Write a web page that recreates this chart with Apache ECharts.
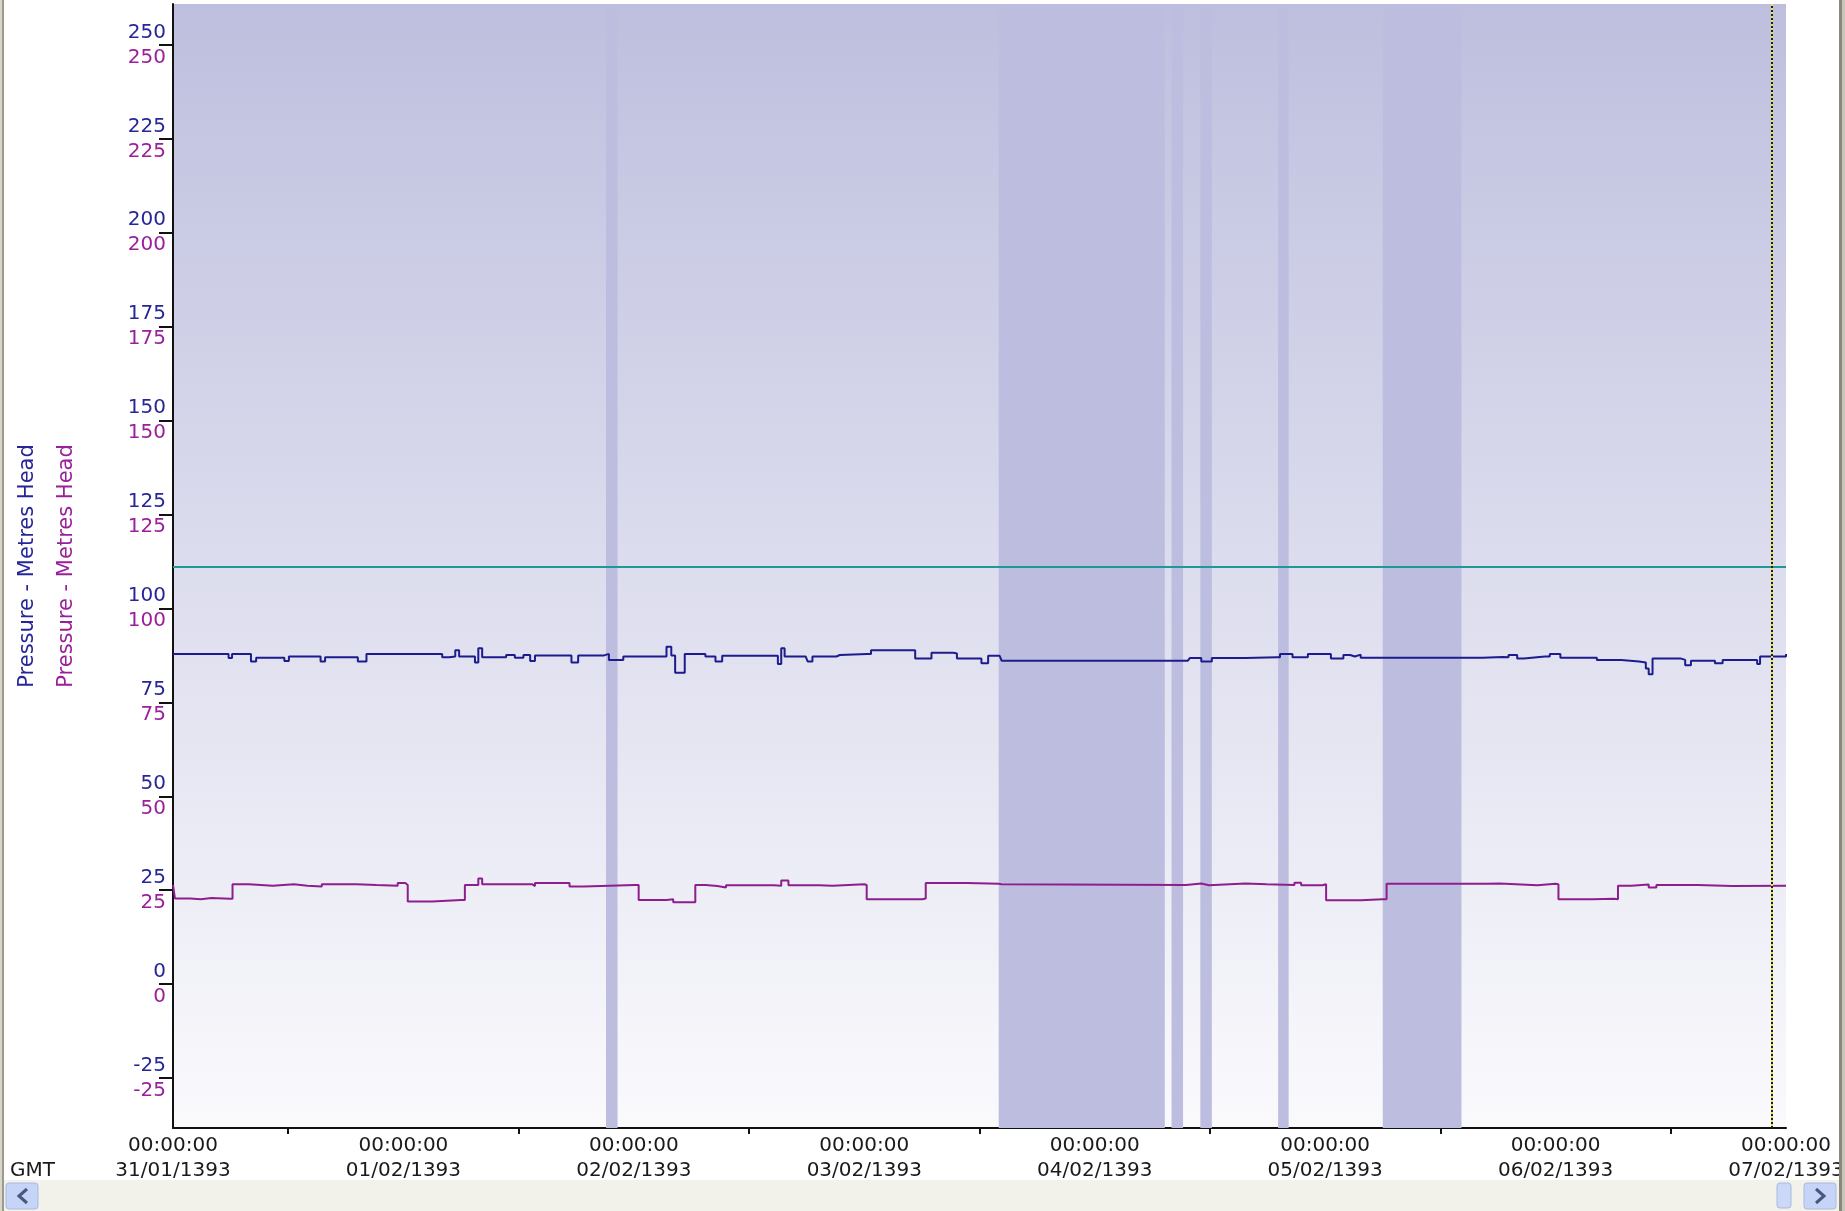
<!DOCTYPE html>
<html><head><meta charset="utf-8">
<script src="https://cdn.jsdelivr.net/npm/echarts@6/dist/echarts.min.js"></script>
<style>html,body{margin:0;padding:0;background:#fff;overflow:hidden}#c{width:1845px;height:1211px}</style>
</head><body><div id="c"></div>
<script>
// ---- data ----
const dateLabels = ['31/01/1393','01/02/1393','02/02/1393','03/02/1393','04/02/1393','05/02/1393','06/02/1393','07/02/1393'];
const timeLabel = '00:00:00';
const dayTickHours = [0,24,48,72,96,120,144,168];
const halfDayTickHours = [12,36,60,84,108,132,156];
const yTickValues = [-25,0,25,50,75,100,125,150,175,200,225,250];
const axisTitle = 'Pressure - Metres Head';
const tzLabel = 'GMT';

const blueHours = [0,5.43,5.79,6.15,7.22,8.12,8.66,11.35,11.6,12.07,14.76,15.37,15.84,19.0,19.25,20.15,24.8,27.5,28.04,28.76,29.4,29.8,31.1,31.45,31.8,32.2,33.8,34.7,35.6,36.5,37.2,37.7,40.2,41.5,42.2,44.9,45.4,46.3,46.9,50.6,51.4,51.9,52.3,53.0,53.3,55.45,56.5,57.2,62.6,63.0,63.35,63.7,65.9,66.1,66.6,69.1,69.45,72.3,72.7,76.6,77.3,78.4,79.0,81.3,81.65,83.8,84.2,84.9,86.1,86.3,103.5,105.7,105.9,107.1,108.2,111.7,115.0,115.3,116.3,116.6,117.9,118.2,120.05,120.6,121.3,121.9,122.6,123.1,123.7,135.3,136.4,138.5,139.1,140.0,140.7,142.9,143.4,144.1,144.5,147.6,148.3,150.1,150.85,152.7,153.4,153.7,154.1,157.0,157.5,158.1,160.3,160.6,161.4,164.6,165.0,165.3,167.5,168.0];
const blueValues = [87.9,87.9,86.8,87.9,87.9,85.9,86.9,86.9,86.0,87.2,87.2,85.9,87.0,87.0,85.9,87.9,87.9,87.9,87.0,87.2,88.9,87.2,87.2,85.6,89.4,87.0,87.0,87.6,86.9,87.6,86.0,87.5,87.5,85.6,87.5,87.9,86.3,86.3,87.2,87.2,89.8,87.5,82.9,82.9,87.9,87.2,85.9,87.4,87.4,85.2,89.4,87.2,87.2,85.9,87.2,87.6,87.9,87.9,88.9,88.9,86.7,86.7,88.2,88.0,86.7,86.7,85.4,87.4,87.4,86.1,86.1,86.1,86.8,85.9,86.8,87.0,87.0,87.9,87.9,87.0,87.0,87.9,87.9,86.7,86.7,87.6,87.2,87.7,86.9,86.9,87.1,87.0,87.6,86.7,87.2,87.2,87.9,87.9,86.9,86.9,86.3,86.3,85.9,85.6,84.0,82.5,86.7,86.3,84.9,86.1,86.1,85.4,86.3,86.3,85.2,87.2,87.2,87.9];

const purpleHours = [0,0.2,1.8,2.9,4.0,5.97,6.2,7.9,10.4,12.6,14.0,15.5,19.1,21.2,23.4,24.2,24.45,27.0,30.0,30.4,31.8,32.2,37.4,37.7,41.3,42.8,48.1,48.5,51.4,52.1,53.9,54.4,55.45,56.7,57.6,62.6,63.35,64.1,67.3,68.7,72.0,72.25,78.06,78.4,82.7,86.0,86.3,105.5,105.7,107.1,107.9,111.7,113.9,116.8,117.5,119.7,120.1,123.7,126.0,126.4,134.2,136.7,138.2,142.1,144.0,144.3,147.9,150.1,150.5,151.9,153.7,154.5,158.8,162.4,168.0];
const purpleValues = [26.4,22.8,22.6,22.9,22.7,22.7,26.6,26.2,26.6,26.2,26.0,26.6,26.4,26.2,26.9,26.4,22.0,22.4,22.4,26.4,28.1,26.6,26.1,26.9,26.0,26.4,26.4,22.4,22.6,21.8,21.8,26.4,26.1,25.7,26.3,26.2,27.6,26.3,26.2,26.6,26.4,22.6,22.8,26.9,26.7,26.6,26.4,26.4,26.8,26.3,26.8,26.6,26.4,27.0,26.3,26.6,22.3,22.6,22.6,26.7,26.7,26.8,26.3,26.7,26.6,22.6,22.7,22.6,26.2,26.5,25.7,26.4,26.1,26.2,26.2];

const bandStarts = [45.1,86.0,104.0,107.0,115.1,126.0];
const bandEnds   = [46.3,103.3,105.2,108.2,116.2,134.2];
const thresholdValue = 111.1;
const cursorHour = 166.5;

// ---- chart ----
const FONT = 'DejaVu Sans';
const BLUE_TXT = '#262698', PURPLE_TXT = '#9a1f9a';
const BLUE_LINE = '#1c1c8e', PURPLE_LINE = '#8e1e8e';

const chart = echarts.init(document.getElementById('c'));
const pairs = (xs, ys) => xs.map((x, i) => [x, ys[i]]);

const yCommon = {
  type: 'value', min: -38.3, max: 260.9,
  splitLine: { show: false },
  nameLocation: 'middle', nameRotate: 90
};

chart.setOption({
  animation: false,
  backgroundColor: '#ffffff',
  grid: {
    left: 173, top: 4, right: 59, bottom: 83,
    containLabel: false, outerBoundsMode: 'none',
    show: true, borderWidth: 0,
    backgroundColor: new echarts.graphic.LinearGradient(0, 0, 0, 1, [
      { offset: 0, color: '#bebfde' },
      { offset: 1, color: '#fafafd' }
    ])
  },
  xAxis: {
    type: 'value', min: 0, max: 168,
    splitLine: { show: false },
    axisLine: { show: true, onZero: false, lineStyle: { color: '#111', width: 2 } },
    axisTick: { show: true, customValues: halfDayTickHours, length: 6, lineStyle: { color: '#111', width: 2 } },
    axisLabel: {
      customValues: dayTickHours, margin: 5,
      fontFamily: FONT, fontSize: 20, color: '#1a1a1a', lineHeight: 25,
      formatter: v => timeLabel + '\n' + dateLabels[Math.round(v / 24)]
    }
  },
  yAxis: [
    Object.assign({}, yCommon, {
      name: axisTitle, nameGap: 135,
      nameTextStyle: { color: BLUE_TXT, fontFamily: FONT, fontSize: 21 },
      axisLine: { show: true, lineStyle: { color: '#111', width: 2 } },
      axisTick: { show: true, customValues: yTickValues, length: 14, lineStyle: { color: '#111', width: 2 } },
      axisLabel: {
        customValues: yTickValues, margin: 7, align: 'right',
        fontFamily: FONT, fontSize: 20,
        formatter: v => '{b|' + v + '}\n{p|' + v + '}',
        rich: {
          b: { color: BLUE_TXT, fontFamily: FONT, fontSize: 20, lineHeight: 25, align: 'right' },
          p: { color: PURPLE_TXT, fontFamily: FONT, fontSize: 20, lineHeight: 25, align: 'right' }
        }
      }
    }),
    Object.assign({}, yCommon, {
      name: axisTitle, nameGap: 96,
      nameTextStyle: { color: PURPLE_TXT, fontFamily: FONT, fontSize: 21 },
      position: 'left',
      axisLine: { show: false }, axisTick: { show: false }, axisLabel: { show: false }
    })
  ],
  series: [
    {
      name: 'bands', type: 'line', data: [], z: 1, silent: true,
      markArea: {
        silent: true,
        itemStyle: { color: '#bdbedf', borderWidth: 0 },
        data: bandStarts.map((s, i) => [{ xAxis: s }, { xAxis: bandEnds[i] }])
      }
    },
    {
      name: 'threshold', type: 'line', data: [], z: 3, silent: true,
      markLine: {
        silent: true, symbol: 'none', label: { show: false },
        data: [
          { yAxis: thresholdValue, lineStyle: { color: '#1f9898', width: 2, type: 'solid' } }
        ]
      }
    },
    {
      name: 'Pressure A', type: 'line', data: pairs(blueHours, blueValues),
      yAxisIndex: 0, z: 4, showSymbol: false, symbol: 'none', step: 'end',
      lineStyle: { color: BLUE_LINE, width: 2 }
    },
    {
      name: 'Pressure B', type: 'line', data: pairs(purpleHours, purpleValues),
      yAxisIndex: 1, z: 4, showSymbol: false, symbol: 'none', step: 'end',
      lineStyle: { color: PURPLE_LINE, width: 2 }
    },
    {
      name: 'cursor', type: 'line', data: [], z: 5, silent: true,
      markLine: {
        silent: true, symbol: 'none', label: { show: false },
        data: [
          { xAxis: cursorHour, lineStyle: { color: '#e8e060', width: 2, type: 'solid' } },
          { xAxis: cursorHour, lineStyle: { color: '#202010', width: 2, type: [2, 2] } }
        ]
      }
    }
  ],
  graphic: [
    { type: 'text', left: 10, top: 1161, z: 10,
      style: { text: tzLabel, fontFamily: FONT, fontSize: 20, fill: '#1a1a1a' } },
    // window frame & scrollbar chrome
    { type: 'rect', shape: { x: 0, y: 0, width: 2, height: 1211 }, style: { fill: '#d8d6ca' }, z: 20 },
    { type: 'rect', shape: { x: 2, y: 0, width: 2, height: 1211 }, style: { fill: '#9c9a8c' }, z: 20 },
    { type: 'rect', shape: { x: 4, y: 1180, width: 1836, height: 31 }, style: { fill: '#f2f1ea' }, z: 20 },
    { type: 'rect', shape: { x: 6, y: 1183, width: 32, height: 26, r: 3 }, style: { fill: '#c6d5f7', stroke: '#a9badf', lineWidth: 1 }, z: 21 },
    { type: 'polyline', shape: { points: [[27, 1189], [19, 1196], [27, 1203]] }, style: { stroke: '#4a5680', lineWidth: 3, fill: null }, z: 22 },
    { type: 'rect', shape: { x: 1777, y: 1183, width: 14, height: 25, r: 3 }, style: { fill: '#cbd8f8', stroke: '#a9badf', lineWidth: 1 }, z: 21 },
    { type: 'rect', shape: { x: 1804, y: 1183, width: 32, height: 26, r: 3 }, style: { fill: '#c6d5f7', stroke: '#a9badf', lineWidth: 1 }, z: 21 },
    { type: 'polyline', shape: { points: [[1816, 1189], [1824, 1196], [1816, 1203]] }, style: { stroke: '#4a5680', lineWidth: 3, fill: null }, z: 22 },
    { type: 'rect', shape: { x: 1839, y: 0, width: 3, height: 1211 }, style: { fill: '#8a887c' }, z: 20 },
    { type: 'rect', shape: { x: 1842, y: 0, width: 3, height: 1211 }, style: { fill: '#c8c6ba' }, z: 20 }
  ]
});
</script>
</body></html>
